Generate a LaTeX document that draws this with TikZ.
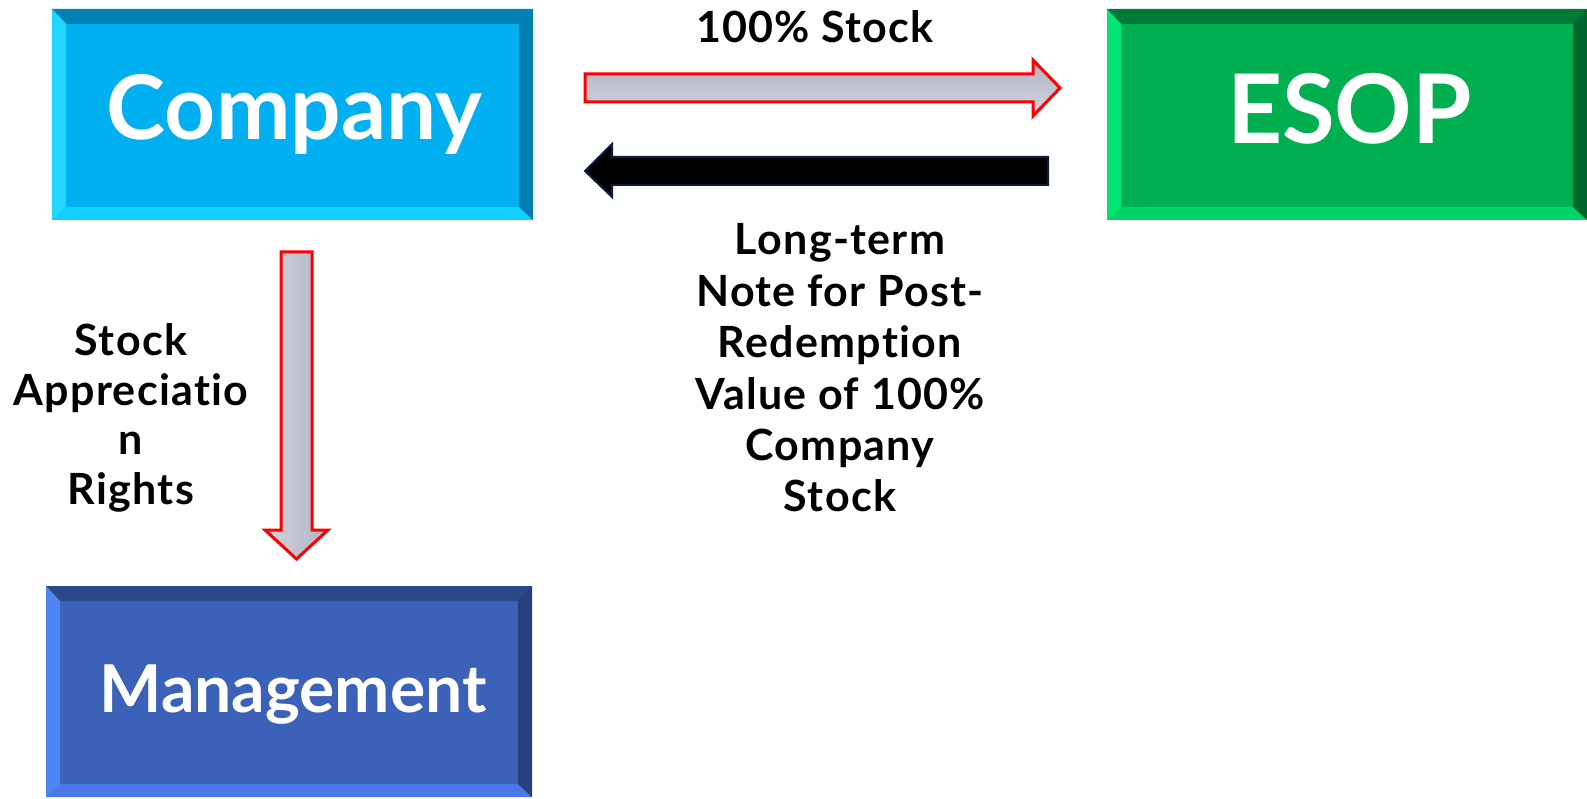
\documentclass[tikz,border=0pt]{standalone}
\usepackage{fontspec}
\setmainfont{Lato}[Ligatures={NoCommon,NoRequired,NoContextual}]
\newfontfamily\lblfont{Lato}[LetterSpace=3,Ligatures={NoCommon,NoRequired,NoContextual}]
\definecolor{cmain}{HTML}{00B0F0}
\definecolor{ctop}{HTML}{0082B4}
\definecolor{cleft}{HTML}{20D8FF}
\definecolor{cbot}{HTML}{10D0FF}
\definecolor{cright}{HTML}{007EAE}
\definecolor{emain}{HTML}{00B050}
\definecolor{etop}{HTML}{007A38}
\definecolor{eleft}{HTML}{00E674}
\definecolor{ebot}{HTML}{00D464}
\definecolor{eright}{HTML}{00662E}
\definecolor{mmain}{HTML}{3B62B8}
\definecolor{mtop}{HTML}{2A4888}
\definecolor{mleft}{HTML}{4D86F2}
\definecolor{mbot}{HTML}{4A78E6}
\definecolor{mright}{HTML}{273F7C}
\definecolor{arrowdark}{HTML}{B0B3C4}
\definecolor{arrowlight}{HTML}{D2D4DC}
\definecolor{navyline}{HTML}{0C1C44}
\newcommand\drawbevel[5]{%
 \fill[#2] (#1.north west) -- (#1.north east) -- ([shift={(-14pt,-15pt)}]#1.north east) -- ([shift={(14pt,-15pt)}]#1.north west) -- cycle;
 \fill[#3] (#1.north west) -- ([shift={(14pt,-15pt)}]#1.north west) -- ([shift={(14pt,13pt)}]#1.south west) -- (#1.south west) -- cycle;
 \fill[#4] (#1.south west) -- ([shift={(14pt,13pt)}]#1.south west) -- ([shift={(-14pt,13pt)}]#1.south east) -- (#1.south east) -- cycle;
 \fill[#5] (#1.south east) -- ([shift={(-14pt,13pt)}]#1.south east) -- ([shift={(-14pt,-15pt)}]#1.north east) -- (#1.north east) -- cycle;
}
\tikzset{
 boxnode/.style={rectangle, inner sep=0pt, outer sep=0pt},
 boxtext/.style={inner sep=0pt, text=white, anchor=base},
 lbl/.style={inner sep=0pt, text=black, align=center, font=\lblfont\fontsize{43}{51.4}\selectfont\bfseries},
 redarrow/.style={draw=red, line width=3pt, line join=miter},
}
\begin{document}
\begin{tikzpicture}[x=1pt,y=-1pt]
\useasboundingbox (0,0) rectangle (1587,799);
\fill[white] (0,0) rectangle (1587,799);

% boxes
\node[boxnode, fill=cmain, minimum width=481pt, minimum height=211pt] (company) at (292.5,114.5) {};
\drawbevel{company}{ctop}{cleft}{cbot}{cright}
\node[boxtext, font=\fontsize{89}{100}\selectfont\bfseries] (companylbl) at (294.5,140) {Company};

\node[boxnode, fill=emain, minimum width=480pt, minimum height=211pt] (esop) at (1347,114.5) {};
\drawbevel{esop}{etop}{eleft}{ebot}{eright}
\node[boxtext, font=\fontsize{96}{110}\selectfont\bfseries] (esoplbl) at (1349.5,144) {ESOP};

\node[boxnode, fill=mmain, minimum width=486pt, minimum height=211pt] (mgmt) at (289,691.5) {};
\drawbevel{mgmt}{mtop}{mleft}{mbot}{mright}
\node[boxtext, font=\fontsize{66}{76}\selectfont\bfseries] (mgmtlbl) at (293,712) {Management};

% block arrows
\path[redarrow, top color=arrowdark, bottom color=arrowlight]
 (585,74) -- (1033,74) -- (1033,60) -- (1060,88) -- (1033,116) -- (1033,102) -- (585,102) -- cycle;
\path[draw=navyline, line width=2pt, fill=black, line join=miter]
 (1048,157) -- (612,157) -- (612,144) -- (585,171) -- (612,197) -- (612,185) -- (1048,185) -- cycle;
\path[redarrow, left color=arrowlight, right color=arrowdark]
 (281,252) -- (312,252) -- (312,530) -- (328,530) -- (296.5,559) -- (265,530) -- (281,530) -- cycle;

% labels
\node[lbl, anchor=base] (stocklbl) at (815,43) {100\% Stock};
\node[lbl] (notelbl) at (840,368) {Long-term\\Note for Post-\\Redemption\\Value of 100\%\\Company\\Stock};
\node[lbl, font=\lblfont\fontsize{43}{49.4}\selectfont\bfseries] (sarlbl) at (131,418) {Stock\\Appreciatio\\n\\Rights};
\end{tikzpicture}
\end{document}
